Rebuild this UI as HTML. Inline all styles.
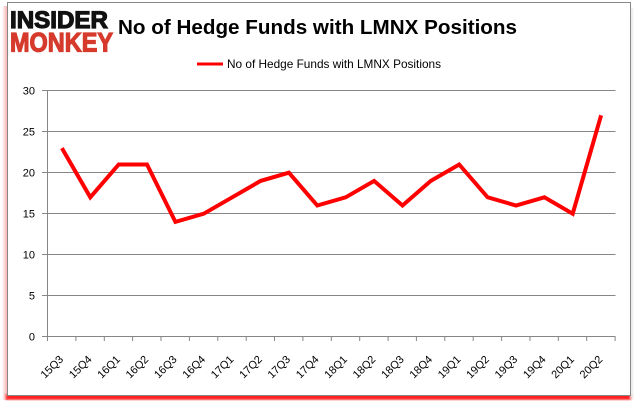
<!DOCTYPE html>
<html>
<head>
<meta charset="utf-8">
<style>
  html, body { margin: 0; padding: 0; background: #ffffff; }
  body { width: 637px; height: 408px; overflow: hidden; }
  svg { display: block; }
  text { font-family: "Liberation Sans", Arial, sans-serif; }
</style>
</head>
<body>
<svg width="637" height="408" viewBox="0 0 637 408" xmlns="http://www.w3.org/2000/svg">
  <defs>
    <filter id="blur1" x="-5%" y="-5%" width="110%" height="110%">
      <feGaussianBlur stdDeviation="1.2"/>
    </filter>
    <linearGradient id="leftShadow" x1="0" x2="1" y1="0" y2="0">
      <stop offset="0" stop-color="#ffffff"/>
      <stop offset="0.5" stop-color="#fbd0d0"/>
      <stop offset="1" stop-color="#f6a0a0"/>
    </linearGradient>
  </defs>
  <rect x="0" y="0" width="637" height="408" fill="#ffffff"/>

  <!-- shadow -->
  <rect x="2" y="6" width="6" height="394" fill="url(#leftShadow)"/>
  <rect x="6" y="394" width="625" height="6" fill="#ff1a1a" filter="url(#blur1)"/>
  <rect x="630" y="8" width="3" height="390" fill="#e6e6e6" filter="url(#blur1)"/>

  <!-- chart frame -->
  <rect x="7.5" y="2.5" width="623" height="393" fill="#ffffff" stroke="#888888" stroke-width="1"/>

  <!-- logo -->
  <text x="10" y="28" font-size="24" font-weight="bold" fill="#111111" stroke="#111111" stroke-width="1.2" textLength="98" lengthAdjust="spacingAndGlyphs">INSIDER</text>
  <text x="10" y="51.5" font-size="27" font-weight="bold" fill="#d63a2c" stroke="#d63a2c" stroke-width="1.2" textLength="103" lengthAdjust="spacingAndGlyphs">MONKEY</text>

  <!-- title -->
  <text x="118" y="34" font-size="20" font-weight="bold" fill="#000000" textLength="399" lengthAdjust="spacingAndGlyphs">No of Hedge Funds with LMNX Positions</text>

  <!-- legend -->
  <line x1="197" y1="64" x2="223" y2="64" stroke="#ff0000" stroke-width="3"/>
  <text x="227" y="68" font-size="12" fill="#000000" textLength="214" lengthAdjust="spacingAndGlyphs">No of Hedge Funds with LMNX Positions</text>

  <!-- gridlines -->
  <g stroke="#868686" stroke-width="1">
    <line x1="42" y1="90.5" x2="615.5" y2="90.5"/>
    <line x1="42" y1="131.5" x2="615.5" y2="131.5"/>
    <line x1="42" y1="172.5" x2="615.5" y2="172.5"/>
    <line x1="42" y1="213.5" x2="615.5" y2="213.5"/>
    <line x1="42" y1="254.5" x2="615.5" y2="254.5"/>
    <line x1="42" y1="295.5" x2="615.5" y2="295.5"/>
    <line x1="42" y1="336.5" x2="615.5" y2="336.5"/>
    <!-- y axis -->
    <line x1="47.5" y1="90.5" x2="47.5" y2="336.5"/>
    <!-- x ticks -->
    <line x1="47.5" y1="336.5" x2="47.5" y2="341"/>
    <line x1="75.9" y1="336.5" x2="75.9" y2="341"/>
    <line x1="104.3" y1="336.5" x2="104.3" y2="341"/>
    <line x1="132.6" y1="336.5" x2="132.6" y2="341"/>
    <line x1="161.0" y1="336.5" x2="161.0" y2="341"/>
    <line x1="189.4" y1="336.5" x2="189.4" y2="341"/>
    <line x1="217.8" y1="336.5" x2="217.8" y2="341"/>
    <line x1="246.2" y1="336.5" x2="246.2" y2="341"/>
    <line x1="274.5" y1="336.5" x2="274.5" y2="341"/>
    <line x1="302.9" y1="336.5" x2="302.9" y2="341"/>
    <line x1="331.3" y1="336.5" x2="331.3" y2="341"/>
    <line x1="359.7" y1="336.5" x2="359.7" y2="341"/>
    <line x1="388.1" y1="336.5" x2="388.1" y2="341"/>
    <line x1="416.4" y1="336.5" x2="416.4" y2="341"/>
    <line x1="444.8" y1="336.5" x2="444.8" y2="341"/>
    <line x1="473.2" y1="336.5" x2="473.2" y2="341"/>
    <line x1="501.6" y1="336.5" x2="501.6" y2="341"/>
    <line x1="530.0" y1="336.5" x2="530.0" y2="341"/>
    <line x1="558.3" y1="336.5" x2="558.3" y2="341"/>
    <line x1="586.7" y1="336.5" x2="586.7" y2="341"/>
    <line x1="615.1" y1="336.5" x2="615.1" y2="341"/>
  </g>

  <!-- y labels -->
  <g font-size="11" fill="#000000" text-anchor="end">
    <text x="35" y="94.5">30</text>
    <text x="35" y="135.5">25</text>
    <text x="35" y="176.5">20</text>
    <text x="35" y="217.5">15</text>
    <text x="35" y="258.5">10</text>
    <text x="35" y="299.5">5</text>
    <text x="35" y="340.5">0</text>
  </g>

  <!-- x labels -->
  <g font-size="11" fill="#000000" text-anchor="end">
    <text transform="translate(64,360) rotate(-45)">15Q3</text>
    <text transform="translate(92.4,360) rotate(-45)">15Q4</text>
    <text transform="translate(120.8,360) rotate(-45)">16Q1</text>
    <text transform="translate(149.1,360) rotate(-45)">16Q2</text>
    <text transform="translate(177.5,360) rotate(-45)">16Q3</text>
    <text transform="translate(205.9,360) rotate(-45)">16Q4</text>
    <text transform="translate(234.3,360) rotate(-45)">17Q1</text>
    <text transform="translate(262.7,360) rotate(-45)">17Q2</text>
    <text transform="translate(291.0,360) rotate(-45)">17Q3</text>
    <text transform="translate(319.4,360) rotate(-45)">17Q4</text>
    <text transform="translate(347.8,360) rotate(-45)">18Q1</text>
    <text transform="translate(376.2,360) rotate(-45)">18Q2</text>
    <text transform="translate(404.6,360) rotate(-45)">18Q3</text>
    <text transform="translate(432.9,360) rotate(-45)">18Q4</text>
    <text transform="translate(461.3,360) rotate(-45)">19Q1</text>
    <text transform="translate(489.7,360) rotate(-45)">19Q2</text>
    <text transform="translate(518.1,360) rotate(-45)">19Q3</text>
    <text transform="translate(546.5,360) rotate(-45)">19Q4</text>
    <text transform="translate(574.8,360) rotate(-45)">20Q1</text>
    <text transform="translate(603.2,360) rotate(-45)">20Q2</text>
  </g>

  <!-- series -->
  <polyline fill="none" stroke="#ff0000" stroke-width="4" stroke-linejoin="miter" stroke-miterlimit="3" stroke-linecap="butt"
    points="61.9,148.1 90.3,197.3 118.7,164.5 147.0,164.5 175.4,221.9 203.8,213.7 232.2,197.3 260.6,180.9 288.9,172.7 317.3,205.5 345.7,197.3 374.1,180.9 402.5,205.5 430.8,180.9 459.2,164.5 487.6,197.3 516.0,205.5 544.4,197.3 572.7,213.7 601.1,115.3"/>
</svg>
</body>
</html>
